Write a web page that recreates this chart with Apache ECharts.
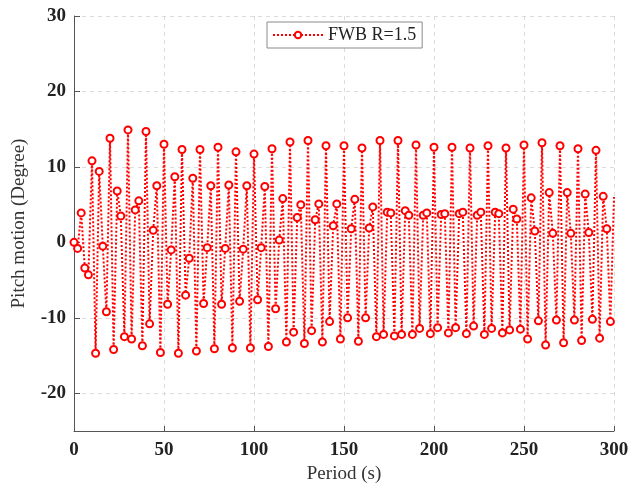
<!DOCTYPE html>
<html>
<head>
<meta charset="utf-8">
<script src="https://cdn.jsdelivr.net/npm/echarts@6/dist/echarts.min.js"></script>
<style>html,body{margin:0;padding:0;background:#fff}#c{width:644px;height:489px}</style>
</head>
<body>
<div id="c"></div>
<script>
const seriesName = 'FWB R=1.5';
const times = [0,2,4,6,8,10,12,14,16,18,20,22,24,26,28,30,32,34,36,38,40,42,44,46,48,50,52,54,56,58,60,62,64,66,68,70,72,74,76,78,80,82,84,86,88,90,92,94,96,98,100,102,104,106,108,110,112,114,116,118,120,122,124,126,128,130,132,134,136,138,140,142,144,146,148,150,152,154,156,158,160,162,164,166,168,170,172,174,176,178,180,182,184,186,188,190,192,194,196,198,200,202,204,206,208,210,212,214,216,218,220,222,224,226,228,230,232,234,236,238,240,242,244,246,248,250,252,254,256,258,260,262,264,266,268,270,272,274,276,278,280,282,284,286,288,290,292,294,296,298,300];
const pitch = [0.0,-0.8,3.9,-3.4,-4.3,10.8,-14.7,9.4,-0.5,-9.2,13.8,-14.2,6.8,3.5,-12.5,14.9,-12.8,4.3,5.5,-13.7,14.7,-10.8,1.6,7.5,-14.6,13.0,-8.2,-1.0,8.7,-14.7,12.3,-7.0,-2.1,8.5,-14.4,12.3,-8.1,-0.7,7.5,-14.1,12.6,-8.2,-0.8,7.6,-14.0,12.0,-7.8,-0.9,7.5,-14.0,11.7,-7.6,-0.7,7.4,-13.8,12.4,-8.8,0.3,5.8,-13.2,13.3,-11.9,3.3,5.0,-13.4,13.5,-11.7,3.0,5.1,-13.2,12.8,-10.5,2.2,5.1,-12.8,12.8,-10.0,1.8,5.7,-13.1,12.5,-10.0,1.9,4.7,-12.5,13.5,-12.2,4.0,3.9,-12.4,13.5,-12.2,4.2,3.6,-12.2,12.9,-11.4,3.6,3.9,-12.1,12.6,-11.3,3.7,3.8,-12.0,12.6,-11.3,3.8,4.0,-12.1,12.5,-11.1,3.6,4.0,-12.2,12.8,-11.4,4.0,3.8,-12.0,12.5,-11.6,4.4,3.1,-11.5,12.9,-12.8,5.9,1.5,-10.4,13.2,-13.6,6.6,1.2,-10.3,12.8,-13.3,6.6,1.2,-10.3,12.4,-13.0,6.4,1.3,-10.2,12.2,-12.7,6.1,1.8,-10.5,6.0];
const xTicks = [0,50,100,150,200,250,300];
const yTicks = [-20,-10,0,10,20,30];

const FONT = '"Liberation Serif", "DejaVu Serif", serif';
const data = times.map((t, i) => {
  const item = { value: [t, pitch[i]] };
  if (i === times.length - 1) item.symbol = 'none';
  return item;
});

const chart = echarts.init(document.getElementById('c'), null, { renderer: 'canvas' });
chart.setOption({
  animation: false,
  backgroundColor: '#fff',
  grid: { left: 74, right: 30, top: 16, bottom: 53, containLabel: false },
  legend: {
    data: [seriesName],
    left: 267, top: 22,
    padding: [4, 6, 4, 5],
    itemWidth: 50, itemHeight: 8,
    borderColor: '#8a8a8a', borderWidth: 1,
    backgroundColor: '#fff',
    textStyle: { fontFamily: FONT, fontSize: 18, color: '#222' }
  },
  xAxis: {
    type: 'value', min: 0, max: 300, interval: 50,
    name: 'Period (s)', nameLocation: 'middle', nameGap: 34,
    nameTextStyle: { fontFamily: FONT, fontSize: 19, color: '#333' },
    axisLine: { show: true, onZero: false, lineStyle: { color: '#555', width: 1 } },
    axisTick: { show: true, inside: true, length: 5, lineStyle: { color: '#555' } },
    axisLabel: { margin: 10, fontFamily: FONT, fontSize: 19, fontWeight: 'bold', color: '#222' },
    splitLine: { show: true, lineStyle: { color: '#dcdcdc', type: [4, 4], width: 1 } }
  },
  yAxis: {
    type: 'value', min: -25, max: 30, interval: 5,
    name: 'Pitch motion (Degree)', nameLocation: 'middle', nameGap: 45,
    nameTextStyle: { fontFamily: FONT, fontSize: 19, color: '#333' },
    axisLine: { show: true, onZero: false, lineStyle: { color: '#555', width: 1 } },
    axisTick: { show: true, inside: true, length: 6, lineStyle: { color: '#555' }, customValues: yTicks },
    axisLabel: { margin: 8, fontFamily: FONT, fontSize: 19, fontWeight: 'bold', color: '#222', customValues: yTicks },
    splitLine: { show: false }
  },
  series: [{
    name: seriesName,
    type: 'line',
    data: data,
    symbol: 'circle',
    symbolSize: 7,
    showAllSymbol: true,
    clip: false,
    lineStyle: { color: '#ff0000', width: 2, type: 'dotted' },
    itemStyle: { color: '#fff', borderColor: '#ff0000', borderWidth: 2 },
    markLine: {
      silent: true, symbol: 'none', z: 0,
      label: { show: false },
      lineStyle: { color: '#dcdcdc', type: [4, 4], width: 1 },
      data: yTicks.map(v => ({ yAxis: v }))
    }
  }]
});
</script>
</body>
</html>
